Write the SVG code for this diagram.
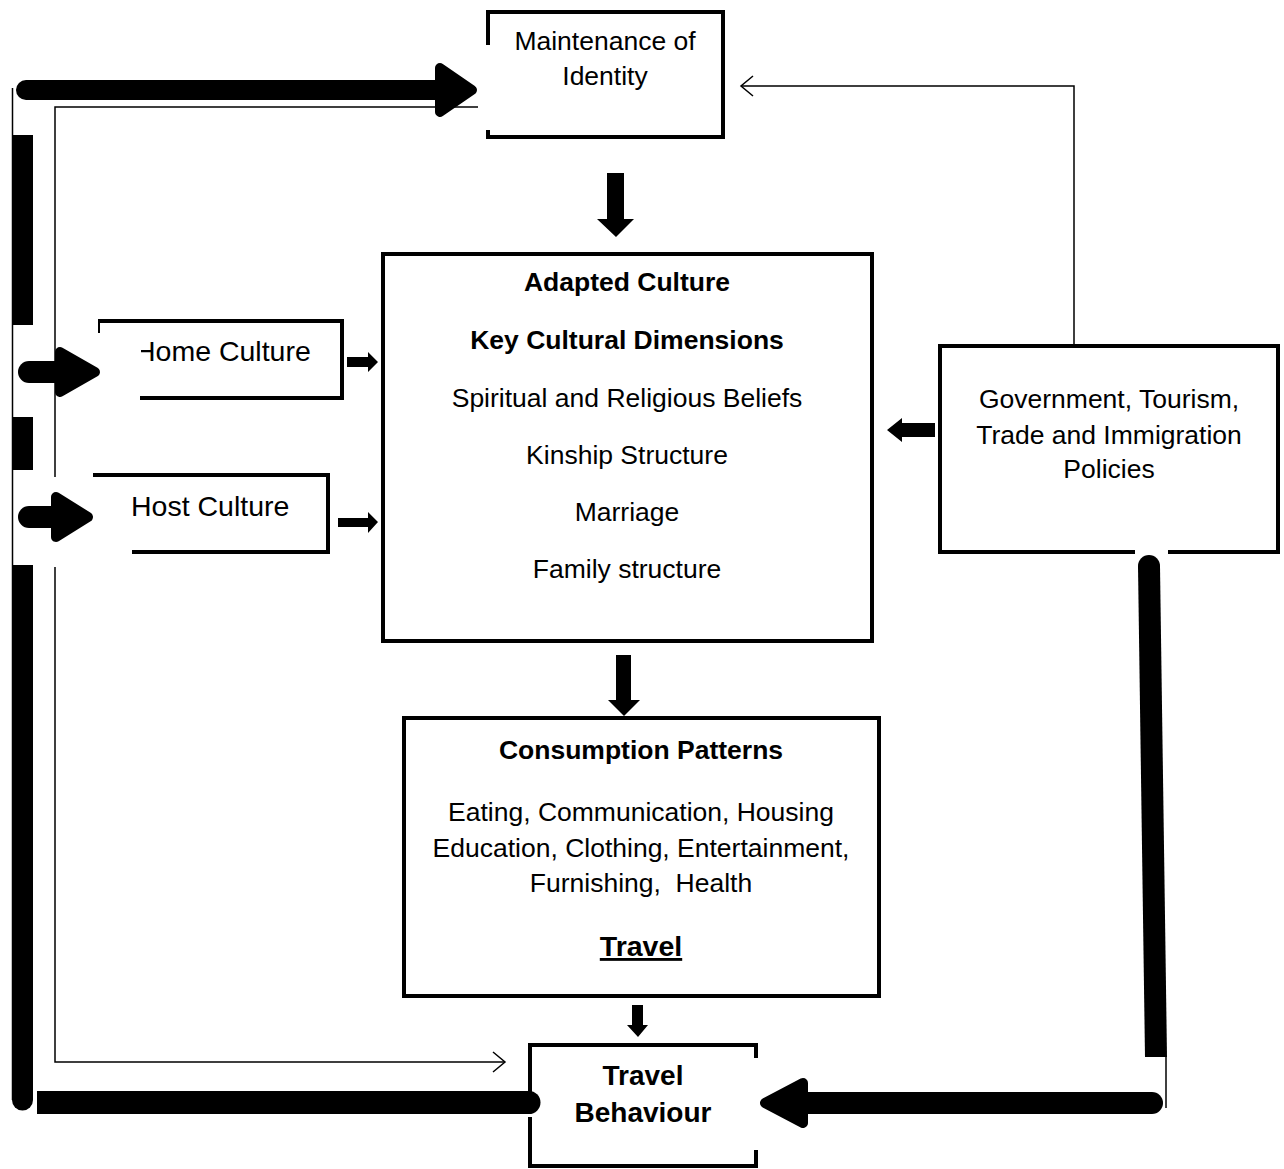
<svg xmlns="http://www.w3.org/2000/svg" width="1284" height="1169" viewBox="0 0 1284 1169">
  <style>
    .box { fill: none; stroke: #000; stroke-width: 4; stroke-linejoin: miter; }
    .thin { fill: none; stroke: #000; stroke-width: 1.5; }
    .shaft { fill: none; stroke: #000; stroke-linecap: round; }
    .head { fill: #000; stroke: #000; stroke-width: 10; stroke-linejoin: round; }
    .blk { fill: #000; stroke: none; }
    text { font-family: "Liberation Sans", Arial, sans-serif; fill: #000; text-anchor: middle; }
    .t { font-size: 26.5px; }
    .b { font-size: 26.5px; font-weight: bold; }
    .big { font-size: 28.5px; }
  </style>
  <rect width="1284" height="1169" fill="#fff"/>

  <!-- connectors -->
  <g id="connectors">
    <!-- thin feedback line from the left to Travel Behaviour -->
    <polyline class="thin" points="478,107 55,107 55,477"/>
    <polyline class="thin" points="55,567 55,1062 505,1062"/>
    <polyline class="thin" points="493,1052 505,1062 493,1072"/>

    <!-- thin line from Policies up to Maintenance of Identity -->
    <polyline class="thin" points="1074,346 1074,86 741,86"/>
    <polyline class="thin" points="753,76 741,86 753,96"/>

    <!-- thick left loop -->
    <line class="thin" x1="12.5" y1="88" x2="12.5" y2="1100"/>
    <rect class="blk" x="12" y="135" width="21" height="190"/>
    <rect class="blk" x="12" y="417" width="21" height="53"/>
    <path class="blk" d="M12,565 L33,565 L33,1100 A10.5,10.5 0 0 1 12,1100 Z"/>
    <path class="blk" d="M37,1091 L529,1091 A11.5,11.5 0 0 1 529,1114 L37,1114 Z"/>

    <!-- thick arrow to Maintenance of Identity -->
    <line class="shaft" x1="26" y1="90" x2="445" y2="90" stroke-width="20"/>
    <polygon class="head" points="440,68 472,90 440,112"/>

    <!-- thick arrow to Home Culture -->
    <line class="shaft" x1="29" y1="372" x2="70" y2="372" stroke-width="22"/>
    <polygon class="head" points="60,352 95,372 60,392"/>

    <!-- thick arrow to Host Culture -->
    <line class="shaft" x1="29" y1="517" x2="65" y2="517" stroke-width="22"/>
    <polygon class="head" points="56,497 88,517 56,537"/>

    <!-- thick right loop from Policies to Travel Behaviour -->
    <path class="blk" d="M1138,566 L1160,566 L1167,1057 L1145,1057 Z"/>
    <circle class="blk" cx="1149" cy="566" r="11"/>
    <line class="thin" x1="1166" y1="1057" x2="1166" y2="1108"/>
    <line class="shaft" x1="1152" y1="1103" x2="800" y2="1103" stroke-width="22"/>
    <polygon class="head" points="803,1083 765,1103 803,1123"/>

    <!-- block arrows down -->
    <polygon class="blk" points="607,173 624,173 624,219 634,219 616,237 597,219 607,219"/>
    <polygon class="blk" points="616,655 631,655 631,700 640,700 624,716 608,700 616,700"/>
    <polygon class="blk" points="632,1005 643,1005 643,1025 648,1025 638,1037 627,1025 632,1025"/>

    <!-- small arrows into Adapted Culture -->
    <polygon class="blk" points="347,357 368,357 368,352 378,362 368,372 368,367 347,367"/>
    <polygon class="blk" points="338,518 368,518 368,512 378,522 368,533 368,527 338,527"/>
    <polygon class="blk" points="935,423 902,423 902,418 887,430 902,442 902,437 935,437"/>
  </g>

  <!-- nodes -->
  <g id="maintenance">
    <path class="box" d="M488,45 L488,12 L723,12 L723,137 L488,137 L488,130"/>
    <text class="t" x="605" y="50">Maintenance of</text>
    <text class="t" x="605" y="85">Identity</text>
  </g>

  <g id="home-culture">
    <path class="box" d="M100,333 L100,321 L342,321 L342,398 L140,398"/>
    <text class="big" x="135" y="361" style="text-anchor:start">Home Culture</text>
    <rect x="100" y="323" width="41" height="73" fill="#fff"/>
  </g>

  <g id="host-culture">
    <path class="box" d="M93,475 L328,475 L328,552 L132,552"/>
    <text class="big" x="131" y="516" style="text-anchor:start">Host Culture</text>
  </g>

  <g id="adapted-culture">
    <rect class="box" x="383" y="254" width="489" height="387"/>
    <text class="b" x="627" y="291">Adapted Culture</text>
    <text class="b" x="627" y="349">Key Cultural Dimensions</text>
    <text class="t" x="627" y="407">Spiritual and Religious Beliefs</text>
    <text class="t" x="627" y="464">Kinship Structure</text>
    <text class="t" x="627" y="521">Marriage</text>
    <text class="t" x="627" y="578">Family structure</text>
  </g>

  <g id="policies">
    <path class="box" d="M1135,552 L940,552 L940,346 L1278,346 L1278,552 L1168,552"/>
    <text class="t" x="1109" y="408">Government, Tourism,</text>
    <text class="t" x="1109" y="444">Trade and Immigration</text>
    <text class="t" x="1109" y="478">Policies</text>
  </g>

  <g id="consumption">
    <rect class="box" x="404" y="718" width="475" height="278"/>
    <text class="b" x="641" y="759">Consumption Patterns</text>
    <text class="t" x="641" y="821">Eating, Communication, Housing</text>
    <text class="t" x="641" y="857">Education, Clothing, Entertainment,</text>
    <text class="t" x="641" y="892" xml:space="preserve">Furnishing,  Health</text>
    <text class="b" x="641" y="956" style="font-size:28.5px;text-decoration:underline">Travel</text>
  </g>

  <g id="travel-behaviour">
    <path class="box" d="M530,1092 L530,1045 L756,1045 L756,1058"/>
    <path class="box" d="M530,1117 L530,1166 L756,1166 L756,1150"/>
    <text class="b" x="643" y="1085" style="font-size:28px">Travel</text>
    <text class="b" x="643" y="1122" style="font-size:28px">Behaviour</text>
  </g>
</svg>
